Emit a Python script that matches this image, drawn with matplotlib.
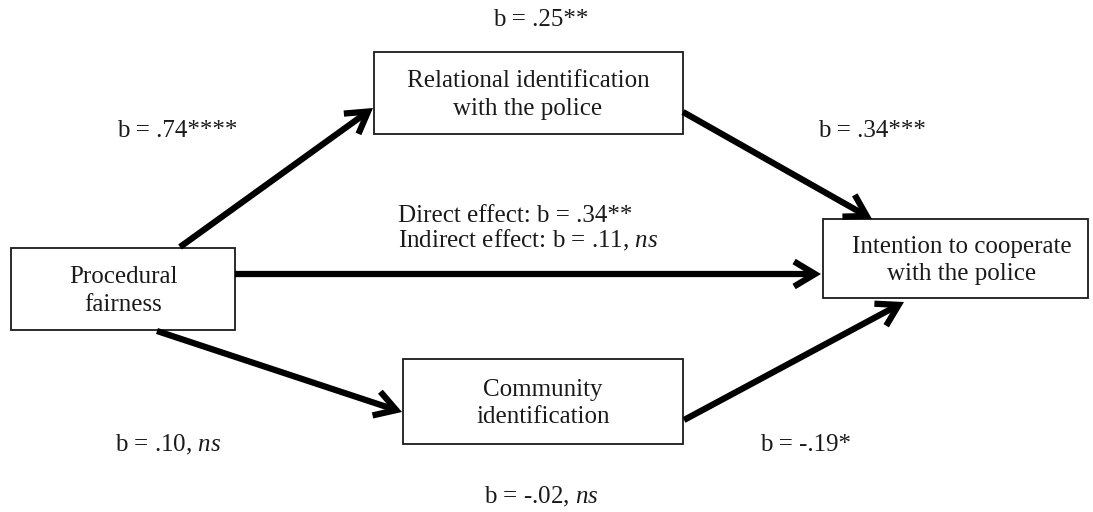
"""
Mediation path diagram: procedural fairness -> identification -> cooperation
"""

import matplotlib.pyplot as plt
from matplotlib.patches import Rectangle, FancyArrowPatch

plt.rcParams['font.family'] = ['Liberation Serif', 'DejaVu Serif']
plt.rcParams['mathtext.fontset'] = 'custom'
plt.rcParams['mathtext.rm'] = 'Liberation Serif'
plt.rcParams['mathtext.it'] = 'Liberation Serif:italic'

# ---- data ----
node_names = ['fair', 'rel', 'cooperate', 'comm']
node_labels = ['Procedural\nfairness',
               'Relational identification\nwith the police',
               'Intention to cooperate\nwith the police',
               'Community\nidentification']

path_from = ['fair', 'rel', 'fair', 'fair', 'comm']
path_to = ['rel', 'cooperate', 'cooperate', 'comm', 'cooperate']

coef_labels = ['b = .25**', 'b = .74****', 'b = .34***',
               'Direct effect: b = .34**\nIndirect effect: b = .11, $\\mathit{ns}$',
               'b = .10, $\\mathit{ns}$', 'b = -.19*', 'b = -.02, $\\mathit{ns}$']

# ---- layout (pixel coordinates, y grows downward) ----
boxes = {  # x0, y0, x1, y1, text center x
    'fair': (11, 248, 235, 330, 123),
    'rel': (374, 52, 683, 134, 528),
    'cooperate': (823, 219, 1088, 298, 962),
    'comm': (403, 359, 683, 444, 543),
}
arrow_ends = [((180, 247), (373, 108)),
              ((683, 112), (872, 219)),
              ((235, 274), (821, 274)),
              ((157, 331), (402, 412)),
              ((684, 420), (904, 302))]
label_pos = [(541, 20, 'center'), (117, 131, 'left'), (818, 131, 'left'),
             (398, 229, 'left'), (115, 445, 'left'), (760, 445, 'left'),
             (484, 497, 'left')]

fig = plt.figure(figsize=(10.93, 5.12), dpi=100)
ax = fig.add_axes([0, 0, 1, 1])
ax.set_xlim(0, 1093)
ax.set_ylim(512, 0)
ax.axis('off')

ink = '#1a1a1a'
fs = 18

for name, label in zip(node_names, node_labels):
    x0, y0, x1, y1, tx = boxes[name]
    ax.add_patch(Rectangle((x0, y0), x1 - x0, y1 - y0, fill=False,
                           edgecolor=ink, lw=1.3))
    ax.text(tx, (y0 + y1) / 2 + 2, label, ha='center', va='center',
            fontsize=fs, color=ink, linespacing=1.3)

for a, b in arrow_ends:
    arr = FancyArrowPatch(a, b, arrowstyle='->,head_length=0.75,head_width=0.45',
                          mutation_scale=20, lw=4.5, color='black',
                          shrinkA=0, shrinkB=0, capstyle='butt', joinstyle='miter')
    ax.add_patch(arr)

for text, (x, y, ha) in zip(coef_labels, label_pos):
    ax.text(x, y, text, ha=ha, va='center', fontsize=fs, color=ink,
            linespacing=1.05)

fig.savefig('out.png', dpi=100, facecolor='white')
